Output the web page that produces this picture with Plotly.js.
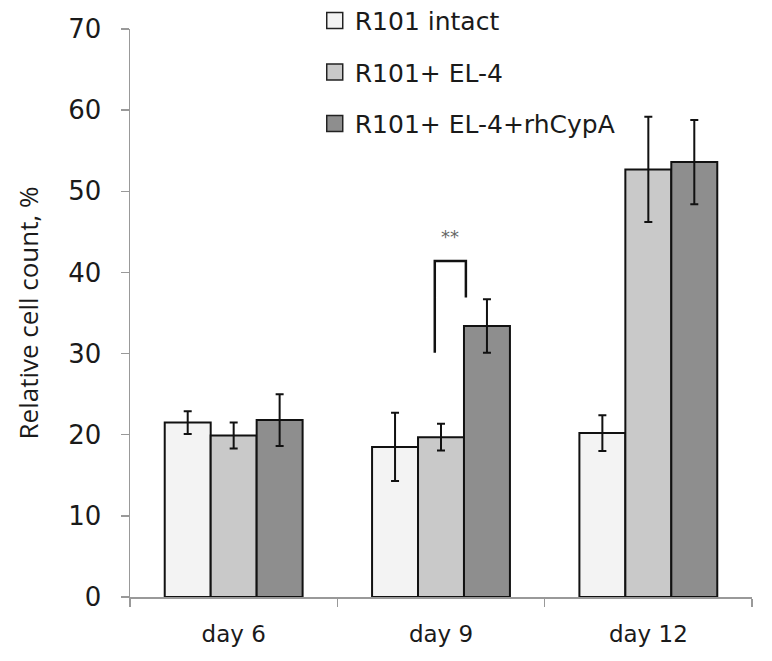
<!DOCTYPE html>
<html>
<head>
<meta charset="utf-8">
<script src="https://cdn.plot.ly/plotly-3.0.1.min.js"></script>
<style>html,body{margin:0;padding:0;background:#fff;}#chart{width:772px;height:661px;}</style>
</head>
<body>
<div id="chart"></div>
<script>
const categories = ['day 6', 'day 9', 'day 12'];
const seriesNames = ['R101 intact', 'R101+ EL-4', 'R101+ EL-4+rhCypA'];
const intactValues = [21.5, 18.5, 20.2];
const intactErrors = [1.4, 4.2, 2.2];
const el4Values = [19.9, 19.7, 52.7];
const el4Errors = [1.6, 1.65, 6.5];
const cypaValues = [21.8, 33.4, 53.6];
const cypaErrors = [3.2, 3.3, 5.2];
const yTicks = [0, 10, 20, 30, 40, 50, 60, 70];
// significance bracket on day 9: left leg bottom, bracket top, right leg bottom
const sigCategory = 1;
const sigLevels = [30.1, 41.4, 36.9];
const sigLabel = '**';

const colors = ['#f3f3f3', '#c9c9c9', '#8e8e8e'];
const values = [intactValues, el4Values, cypaValues];
const errors = [intactErrors, el4Errors, cypaErrors];
const font = '"DejaVu Sans", sans-serif';

const traces = seriesNames.map((name, i) => ({
  type: 'bar',
  name: name,
  showlegend: false,
  x: categories,
  y: values[i],
  marker: {color: colors[i], line: {color: '#111', width: 2}},
  error_y: {type: 'data', array: errors[i], visible: true, color: '#111', thickness: 2, width: 4},
  hoverinfo: 'none'
}));
// legend entries with larger square swatches
seriesNames.forEach((name, i) => {
  traces.push({
    type: 'scatter', mode: 'markers', name: name, legendgroup: 'g' + i,
    x: [null], y: [null],
    marker: {symbol: 'square', size: 16, color: colors[i], line: {color: '#222', width: 1.5}},
    hoverinfo: 'none'
  });
});

const xl = sigCategory - 0.03, xr = sigCategory + 0.12;
const layout = {
  width: 772, height: 661,
  margin: {l: 130, r: 20, t: 29, b: 64, autoexpand: false},
  paper_bgcolor: '#fff', plot_bgcolor: '#fff',
  barmode: 'group', bargap: 0.335, bargroupgap: 0,
  font: {family: font, color: '#1a1a1a'},
  showlegend: true,
  legend: {x: 0.297, y: 1.055, xanchor: 'left', yanchor: 'top', bgcolor: 'rgba(0,0,0,0)',
           font: {size: 25, family: font, color: '#1a1a1a'}, tracegroupgap: 16, itemwidth: 30},
  xaxis: {type: 'category', showline: true, linecolor: '#999', linewidth: 1.5,
          ticks: 'outside', tickson: 'boundaries', ticklen: 8, tickcolor: '#999', tickwidth: 1.5,
          ticklabelstandoff: 16,
          tickfont: {size: 23, family: font, color: '#1a1a1a'}, showgrid: false, zeroline: false},
  yaxis: {range: [0, 70], tickvals: yTicks, showline: true, linecolor: '#999', linewidth: 1.5,
          ticks: 'outside', ticklen: 8, tickcolor: '#999', tickwidth: 1.5, showgrid: false, zeroline: false,
          ticklabelstandoff: 14,
          tickfont: {size: 26, family: font, color: '#1a1a1a'},
          title: {text: 'Relative cell count, %', font: {size: 26, family: '"Open Sans", sans-serif', color: '#1a1a1a'}, standoff: 22}},
  shapes: [{type: 'path', xref: 'x', yref: 'y',
            path: `M ${xl} ${sigLevels[0]} L ${xl} ${sigLevels[1]} L ${xr} ${sigLevels[1]} L ${xr} ${sigLevels[2]}`,
            line: {color: '#111', width: 2.5}}],
  annotations: [{xref: 'x', yref: 'y', x: (xl + xr) / 2, y: sigLevels[1] + 3, yanchor: 'middle',
                 text: sigLabel, showarrow: false, font: {size: 18, color: '#666', family: font}}]
};

Plotly.newPlot('chart', traces, layout, {displayModeBar: false, staticPlot: true});
</script>
</body>
</html>
